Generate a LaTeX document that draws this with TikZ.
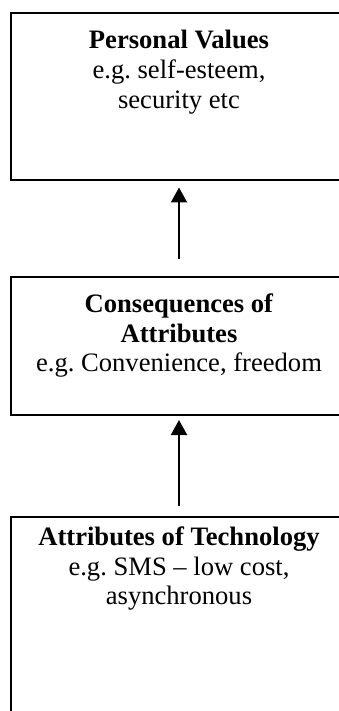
\documentclass[tikz,border=0pt]{standalone}
\usepackage{fontspec}
\setmainfont{Liberation Serif}
\usetikzlibrary{arrows.meta}
\frenchspacing
\begin{document}
\begin{tikzpicture}[x=1pt,y=-1pt,
  box/.style={draw=black,line width=2pt,rectangle,inner sep=0pt,outer sep=0pt,minimum width=336pt},
  label/.style={anchor=north,align=center,inner sep=0pt,font=\fontsize{26.6}{29.8}\selectfont},
  arr/.style={line width=2pt,-{Triangle[width=16pt,length=15pt]}}]
\useasboundingbox (0,0) rectangle (339,711);
\clip (0,0) rectangle (339,711);
\node[box,minimum height=167pt] (top) at (179,96.5) {};
\node[box,minimum height=138pt] (mid) at (179,346) {};
\node[box,minimum height=243pt] (bot) at (179,638.5) {};
\node[label] (toptext) at (179,30.3) {\textbf{Personal Values}\\e.g. self-esteem,\\security etc};
\node[label] (midtext) at (179,293.3) {\textbf{Consequences of}\\\textbf{Attributes}\\e.g. Convenience, freedom};
\node[label] (bottext) at (179,526.3) {\textbf{Attributes of Technology}\\e.g. SMS -- low cost,\\asynchronous};
\draw[arr,shorten <=18pt,shorten >=7.5pt] (mid.north) -- (top.south);
\draw[arr,shorten <=11pt,shorten >=5pt] (bot.north) -- (mid.south);
\end{tikzpicture}
\end{document}
